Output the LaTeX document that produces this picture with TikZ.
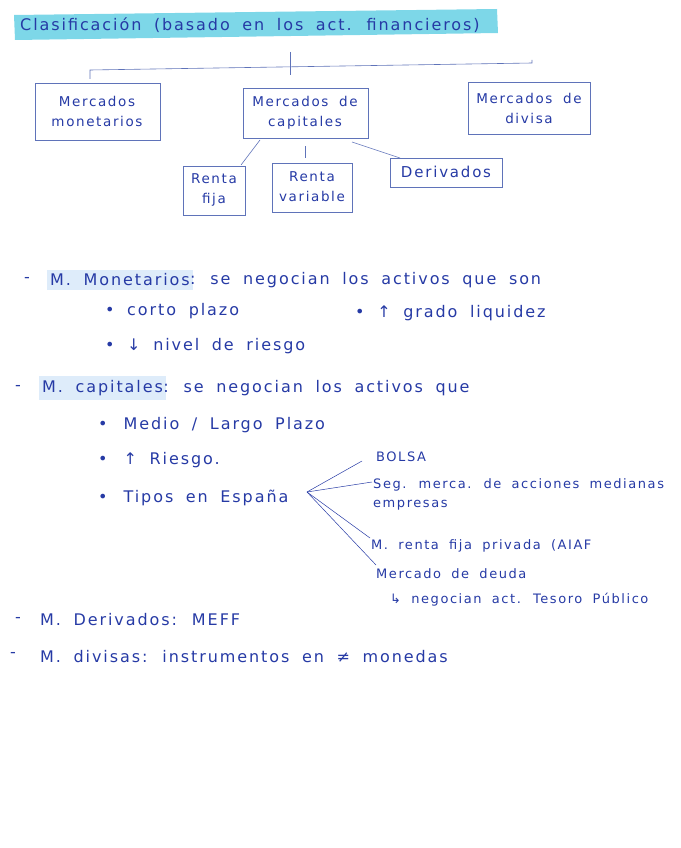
\documentclass[tikz,border=0pt]{standalone}
\usepackage{fontspec}
\setmainfont{DejaVu Sans}
\newfontfamily\hand[LetterSpace=12,WordSpace=1.8]{DejaVu Sans}
\definecolor{pen}{RGB}{38,58,165}
\definecolor{boxline}{RGB}{95,115,185}
\definecolor{hlcyan}{RGB}{125,215,232}
\definecolor{hllight}{RGB}{222,236,250}
\tikzset{
  txt/.style={anchor=west, inner sep=0pt, text=pen, font=\hand\fontsize{16}{18}\selectfont},
  subtxt/.style={txt, font=\hand\fontsize{13}{15}\selectfont},
  boxtxt/.style={text=pen, font=\hand\fontsize{13.5}{15}\selectfont, align=center, inner sep=0pt},
  mbox/.style={draw=boxline, line width=0.6pt},
  conn/.style={draw=boxline, line width=0.6pt},
  fanline/.style={draw=pen, line width=0.5pt},
  hl/.style={fill=hllight, inner xsep=3pt, inner ysep=4pt, text=pen, anchor=west}
}
\begin{document}
\begin{tikzpicture}[x=1pt,y=-1pt]
\useasboundingbox (0,0) rectangle (680,848);
% title highlight
\fill[hlcyan] (14,15) -- (497,9) -- (498,33) -- (15,40) -- cycle;
\node[txt] (title) at (20,25) {Clasificación (basado en los act. financieros)};

% tree
\coordinate (top) at (290,52);
\coordinate (mid) at (290,75);
\coordinate (hl) at (90,70);
\coordinate (hr) at (532,63);
\coordinate (tl) at (90,79);
\coordinate (tr) at (532,60);
\draw[conn] (top) -- (mid);
\draw[conn] (tl) -- (hl) -- (hr) -- (tr);

\draw[mbox] (35,83) rectangle (160,140);
\node[boxtxt] (mon) at (97,111) {Mercados\\[5pt]monetarios};
\draw[mbox] (243,88) rectangle (368,138);
\node[boxtxt] (cap) at (305,113) {Mercados de\\[5pt]capitales};
\draw[mbox] (468,82) rectangle (590,134);
\node[boxtxt] (div) at (529,108) {Mercados de\\[5pt]divisa};
\draw[mbox] (183,166) rectangle (245,215);
\node[boxtxt] (rf) at (214,190) {Renta\\[5pt]fija};
\draw[mbox] (272,163) rectangle (352,212);
\node[boxtxt] (rv) at (312,187) {Renta\\[5pt]variable};
\draw[mbox] (390,158) rectangle (502,187);
\node[boxtxt, font=\hand\fontsize{15}{17}\selectfont] (der) at (446,172) {Derivados};

\coordinate (c1) at (260,140);
\coordinate (c1e) at (241,165);
\coordinate (c2) at (305,146);
\coordinate (c2e) at (305,158);
\coordinate (c3) at (352,142);
\coordinate (c3e) at (400,158);
\draw[conn] (c1) -- (c1e);
\draw[conn] (c2) -- (c2e);
\draw[conn] (c3) -- (c3e);

% monetarios
\node[txt] (d1) at (24,280) {-};
\node[txt, hl] (m1a) at (47,280) {M. Monetarios};
\node[txt] (m1b) at ([xshift=-3pt]m1a.east) {: se negocian los activos que son};
\node[txt] (b1) at (105,311) {• corto plazo};
\node[txt] (b2) at (355,313) {• ↑ grado liquidez};
\node[txt] (b3) at (105,346) {• ↓ nivel de riesgo};

% capitales
\node[txt] (d2) at (15,388) {-};
\node[txt, hl] (m2a) at (39,388) {M. capitales};
\node[txt] (m2b) at ([xshift=-3pt]m2a.east) {: se negocian los activos que};
\node[txt] (b4) at (98,425) {•\hspace{16pt}Medio / Largo Plazo};
\node[txt] (b5) at (98,460) {•\hspace{16pt}↑ Riesgo.};
\node[txt] (b6) at (98,498) {•\hspace{16pt}Tipos en España};

\coordinate (fan) at (307,492);
\coordinate (f1) at (362,461);
\coordinate (f2) at (372,482);
\coordinate (f3) at (370,538);
\coordinate (f4) at (376,565);
\draw[fanline] (fan) -- (f1);
\draw[fanline] (fan) -- (f2);
\draw[fanline] (fan) -- (f3);
\draw[fanline] (fan) -- (f4);
\node[subtxt] (e1) at (376,457) {BOLSA};
\node[subtxt] (e2) at (373,485) {Seg. merca. de acciones medianas};
\node[subtxt] (e2b) at (373,505) {empresas};
\node[subtxt] (e3) at (371,546) {M. renta fija privada (AIAF};
\node[subtxt] (e4) at (376,574) {Mercado de deuda};
\node[subtxt] (e5) at (390,600) {↳ negocian act. Tesoro Público};

% derivados / divisas
\node[txt] (d3) at (15,620) {-};
\node[txt] (m3) at (40,620) {M. Derivados: MEFF};
\node[txt] (d4) at (10,655) {-};
\node[txt] (m4) at (40,657) {M. divisas: instrumentos en ≠ monedas};
\end{tikzpicture}
\end{document}
